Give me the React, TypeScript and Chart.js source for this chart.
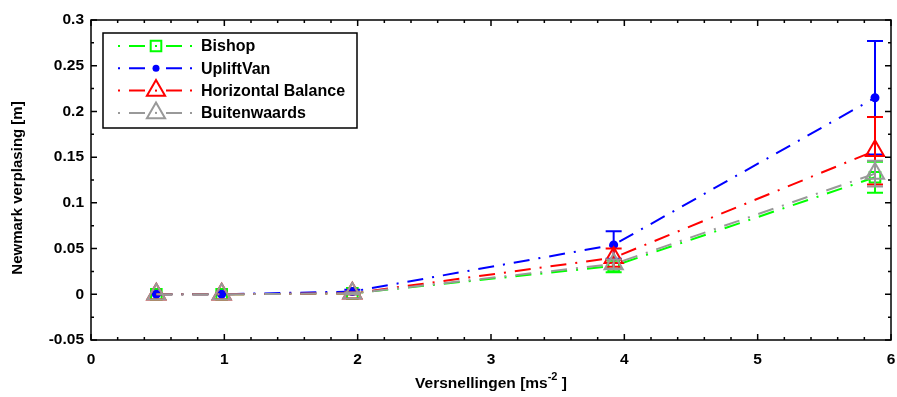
import React, { useEffect, useRef } from "react";
import { Chart, registerables } from "chart.js";

Chart.register(...registerables);

const accelerations = [0.49, 0.98, 1.96, 3.92, 5.88];
const bishopValues = [0, 0, 0.001, 0.031, 0.128];
const bishopErrors = [0, 0, 0.001, 0.007, 0.017];
const upliftVanValues = [0, 0, 0.003, 0.054, 0.215];
const upliftVanErrors = [0, 0, 0.002, 0.015, 0.062];
const horizontalValues = [0, 0, 0.001, 0.04, 0.157];
const horizontalErrors = [0, 0, 0.001, 0.01, 0.037];
const buitenValues = [0, 0, 0.001, 0.033, 0.132];
const buitenErrors = [0, 0, 0.001, 0.005, 0.014];
const seriesLabels = ["Bishop", "UpliftVan", "Horizontal Balance", "Buitenwaards"];
const xTickValues = [0, 1, 2, 3, 4, 5, 6];
const yTickValues = [-0.05, 0, 0.05, 0.1, 0.15, 0.2, 0.25, 0.3];
const xTitle = "Versnellingen [ms";
const xTitleSup = "-2";
const yTitle = "Newmark verplasing [m]";

const valueSets = [bishopValues, upliftVanValues, horizontalValues, buitenValues];
const errorSets = [bishopErrors, upliftVanErrors, horizontalErrors, buitenErrors];
const colors = ["#00ff00", "#0000ff", "#ff0000", "#999999"];
const pointStyles = ["rect", "circle", "triangle", "triangle"];
const pointRadii = [7.5, 3.5, 10.5, 10.5];
const filled = [false, true, false, false];

const FONT = "'Liberation Sans', Arial, Helvetica, sans-serif";
const tickFont = { family: FONT, size: 15.5, weight: "bold" as const };

const errorBarPlugin = {
  id: "errorBars",
  afterDatasetDraw(chart: any, args: any) {
    const i = args.index;
    const errs = errorSets[i];
    const vals = valueSets[i];
    const xs = chart.scales.x;
    const ys = chart.scales.y;
    const ctx = chart.ctx;
    ctx.save();
    ctx.strokeStyle = colors[i];
    ctx.lineWidth = 2;
    ctx.setLineDash([]);
    accelerations.forEach((xv, j) => {
      const e = errs[j];
      if (!e) return;
      const px = xs.getPixelForValue(xv);
      const y1 = ys.getPixelForValue(vals[j] - e);
      const y2 = ys.getPixelForValue(vals[j] + e);
      ctx.beginPath();
      ctx.moveTo(px, y1);
      ctx.lineTo(px, y2);
      ctx.moveTo(px - 8, y1);
      ctx.lineTo(px + 8, y1);
      ctx.moveTo(px - 8, y2);
      ctx.lineTo(px + 8, y2);
      ctx.stroke();
    });
    ctx.restore();
  },
};

function subdivide(values: number[], parts: number) {
  const out: number[] = [];
  for (let k = 0; k < values.length - 1; k++) {
    const a = values[k];
    const b = values[k + 1];
    for (let m = 1; m < parts; m++) out.push(a + ((b - a) * m) / parts);
  }
  return out;
}

const framePlugin = {
  id: "frameTicks",
  afterDraw(chart: any) {
    const ctx = chart.ctx;
    const a = chart.chartArea;
    const xs = chart.scales.x;
    const ys = chart.scales.y;
    ctx.save();
    ctx.strokeStyle = "#000";
    ctx.lineWidth = 1.5;
    ctx.setLineDash([]);
    ctx.strokeRect(a.left, a.top, a.right - a.left, a.bottom - a.top);
    ctx.beginPath();
    const xTick = (v: number, len: number) => {
      const px = xs.getPixelForValue(v);
      ctx.moveTo(px, a.bottom);
      ctx.lineTo(px, a.bottom - len);
      ctx.moveTo(px, a.top);
      ctx.lineTo(px, a.top + len);
    };
    const yTick = (v: number, len: number) => {
      const py = ys.getPixelForValue(v);
      ctx.moveTo(a.left, py);
      ctx.lineTo(a.left + len, py);
      ctx.moveTo(a.right, py);
      ctx.lineTo(a.right - len, py);
    };
    xTickValues.forEach((v) => xTick(v, 6));
    subdivide(xTickValues, 5).forEach((v) => xTick(v, 3));
    yTickValues.forEach((v) => yTick(v, 6));
    subdivide(yTickValues, 2).forEach((v) => yTick(v, 3));
    ctx.stroke();

    // axis titles
    ctx.fillStyle = "#000";
    const big = `bold 15.5px ${FONT}`;
    const small = `bold 11px ${FONT}`;
    ctx.textBaseline = "middle";
    ctx.font = big;
    const mainW = ctx.measureText(xTitle).width;
    const closeW = ctx.measureText(" ]").width;
    ctx.font = small;
    const supW = ctx.measureText(xTitleSup).width;
    const total = mainW + supW + closeW;
    const cx = (a.left + a.right) / 2;
    const ty = a.bottom + 44;
    let tx = cx - total / 2;
    ctx.textAlign = "left";
    ctx.font = big;
    ctx.fillText(xTitle, tx, ty);
    tx += mainW;
    ctx.font = small;
    ctx.fillText(xTitleSup, tx, ty - 7);
    tx += supW;
    ctx.font = big;
    ctx.fillText(" ]", tx, ty);

    ctx.save();
    ctx.font = `bold 15px ${FONT}`;
    ctx.translate(18, (a.top + a.bottom) / 2 + 8);
    ctx.rotate(-Math.PI / 2);
    ctx.textAlign = "center";
    ctx.fillText(yTitle, 0, 0);
    ctx.restore();
    ctx.restore();
  },
};

function drawMarker(ctx: CanvasRenderingContext2D, i: number, x: number, y: number) {
  const r = pointRadii[i];
  ctx.beginPath();
  if (pointStyles[i] === "rect") {
    const s = r / Math.SQRT2;
    ctx.rect(x - s, y - s, 2 * s, 2 * s);
  } else if (pointStyles[i] === "circle") {
    ctx.arc(x, y, r, 0, Math.PI * 2);
  } else {
    let rad = 0;
    ctx.moveTo(x + Math.sin(rad) * r, y - Math.cos(rad) * r);
    rad += (2 * Math.PI) / 3;
    ctx.lineTo(x + Math.sin(rad) * r, y - Math.cos(rad) * r);
    rad += (2 * Math.PI) / 3;
    ctx.lineTo(x + Math.sin(rad) * r, y - Math.cos(rad) * r);
    ctx.closePath();
  }
  if (filled[i]) {
    ctx.fillStyle = colors[i];
    ctx.fill();
  } else {
    ctx.stroke();
    ctx.fillStyle = colors[i];
    ctx.fillRect(x - 1, y - 1, 2, 2);
  }
}

const legendPlugin = {
  id: "customLegend",
  afterDraw(chart: any) {
    const ctx = chart.ctx;
    const a = chart.chartArea;
    const bx = a.left + 12;
    const by = a.top + 13;
    const bw = 254;
    const bh = 95;
    ctx.save();
    ctx.fillStyle = "#fff";
    ctx.fillRect(bx, by, bw, bh);
    ctx.strokeStyle = "#000";
    ctx.lineWidth = 1.5;
    ctx.strokeRect(bx, by, bw, bh);
    seriesLabels.forEach((label, i) => {
      const cy = by + 13 + i * 22.3;
      ctx.strokeStyle = colors[i];
      ctx.lineWidth = 2;
      ctx.setLineDash([]);
      ctx.beginPath();
      ctx.moveTo(bx + 15, cy);
      ctx.lineTo(bx + 17, cy);
      ctx.moveTo(bx + 26, cy);
      ctx.lineTo(bx + 42, cy);
      ctx.moveTo(bx + 63, cy);
      ctx.lineTo(bx + 79, cy);
      ctx.moveTo(bx + 87, cy);
      ctx.lineTo(bx + 89, cy);
      ctx.stroke();
      drawMarker(ctx, i, bx + 53, cy);
      ctx.fillStyle = "#000";
      ctx.font = `bold 16px ${FONT}`;
      ctx.textAlign = "left";
      ctx.textBaseline = "middle";
      ctx.fillText(label, bx + 98, cy + 1);
    });
    ctx.restore();
  },
};

export default function App() {
  const ref = useRef<HTMLCanvasElement>(null);
  useEffect(() => {
    document.body.style.margin = "0";
    const datasets = seriesLabels.map((label, i) => ({
      label,
      data: accelerations.map((x, j) => ({ x, y: valueSets[i][j] })),
      borderColor: colors[i],
      backgroundColor: filled[i] ? colors[i] : "rgba(0,0,0,0)",
      borderWidth: 2,
      borderDash: [16, 9, 2, 9],
      pointStyle: pointStyles[i],
      pointRadius: pointRadii[i],
      pointBorderColor: colors[i],
      pointBackgroundColor: filled[i] ? colors[i] : "rgba(0,0,0,0)",
      pointBorderWidth: 2,
      pointHoverRadius: pointRadii[i],
      fill: false,
      tension: 0,
      order: seriesLabels.length - i,
    }));
    const chart = new Chart(ref.current!, {
      type: "line",
      data: { datasets } as any,
      plugins: [errorBarPlugin, framePlugin, legendPlugin],
      options: {
        responsive: false,
        animation: false,
        layout: { autoPadding: false, padding: { top: 20, right: 6, left: 0, bottom: 0 } },
        plugins: { legend: { display: false }, tooltip: { enabled: false } },
        scales: {
          x: {
            type: "linear",
            min: 0,
            max: 6,
            grid: { display: false, drawTicks: false },
            border: { display: false },
            afterBuildTicks: (s: any) => {
              s.ticks = xTickValues.map((v) => ({ value: v }));
            },
            afterFit: (s: any) => {
              s.height = 57;
              s.paddingLeft = 0;
              s.paddingRight = 0;
            },
            ticks: {
              font: tickFont,
              color: "#000",
              padding: 10,
              maxRotation: 0,
              autoSkip: false,
              callback: (v: any) => String(v),
            },
          },
          y: {
            type: "linear",
            min: -0.05,
            max: 0.3,
            grid: { display: false, drawTicks: false },
            border: { display: false },
            afterBuildTicks: (s: any) => {
              s.ticks = yTickValues.map((v) => ({ value: v }));
            },
            afterFit: (s: any) => {
              s.width = 91;
              s.paddingTop = 0;
              s.paddingBottom = 0;
            },
            ticks: {
              font: tickFont,
              color: "#000",
              padding: 7,
              autoSkip: false,
              callback: (v: any) => String(Math.round(Number(v) * 1000) / 1000),
            },
          },
        },
      } as any,
    });
    return () => chart.destroy();
  }, []);
  return (
    <div style={{ width: 897, height: 397 }}>
      <canvas ref={ref} width={897} height={397} style={{ display: "block", width: 897, height: 397 }} />
    </div>
  );
}
